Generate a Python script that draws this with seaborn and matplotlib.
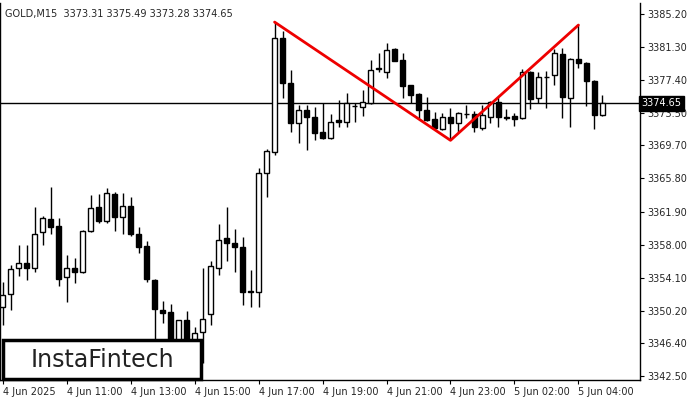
import matplotlib

matplotlib.use("Agg")
import matplotlib.pyplot as plt
import numpy as np
import pandas as pd
import seaborn as sns
from matplotlib.patches import Rectangle

# GOLD M15 candles
opens = [3350.6, 3352.2, 3355.2, 3355.8, 3355.3, 3359.5, 3361.0, 3360.2, 3354.2, 3355.2,
         3354.8, 3359.6, 3362.4, 3360.8, 3364.0, 3361.3, 3362.5, 3359.2, 3357.8, 3353.8,
         3350.3, 3350.0, 3345.6, 3349.1, 3346.5, 3347.7, 3349.8, 3355.3, 3358.8, 3358.2,
         3357.7, 3352.5, 3352.4, 3366.4, 3368.9, 3382.4, 3377.1, 3372.3, 3373.9, 3373.0,
         3371.3, 3370.6, 3372.7, 3372.5, 3374.35, 3374.2, 3374.7, 3378.7, 3378.35, 3381.1,
         3379.8, 3376.8, 3375.8, 3373.9, 3372.8, 3371.6, 3373.0, 3372.3, 3373.4, 3373.4,
         3371.75, 3373.0, 3374.8, 3373.0, 3373.2, 3372.9, 3378.4, 3375.3, 3377.8, 3378.0,
         3380.5, 3375.3, 3379.9, 3379.45, 3377.35, 3373.3]
highs = [3353.6, 3355.6, 3357.9, 3358.0, 3362.4, 3361.4, 3364.8, 3361.1, 3356.8, 3356.4,
         3359.7, 3363.8, 3364.0, 3364.7, 3364.2, 3364.1, 3363.6, 3360.1, 3358.4, 3354.0,
         3351.4, 3351.0, 3349.1, 3350.2, 3348.3, 3355.3, 3356.1, 3360.4, 3362.4, 3359.8,
         3358.9, 3355.0, 3367.0, 3369.3, 3384.25, 3383.2, 3378.6, 3374.5, 3374.5, 3374.2,
         3374.7, 3373.4, 3375.05, 3375.9, 3374.7, 3376.2, 3379.8, 3380.6, 3381.8, 3381.2,
         3380.6, 3376.8, 3375.9, 3375.4, 3373.6, 3373.5, 3374.1, 3373.6, 3374.5, 3373.75,
         3374.5, 3374.9, 3375.4, 3374.0, 3373.5, 3378.7, 3378.5, 3378.35, 3378.5, 3381.1,
         3381.2, 3380.0, 3383.9, 3379.5, 3377.4, 3375.6]
lows = [3348.5, 3350.3, 3354.3, 3353.8, 3354.8, 3357.9, 3359.3, 3353.1, 3351.2, 3353.5,
        3354.6, 3359.5, 3360.5, 3360.5, 3359.6, 3359.2, 3359.0, 3357.0, 3353.6, 3346.1,
        3348.7, 3344.4, 3343.8, 3343.4, 3345.0, 3344.0, 3348.5, 3354.4, 3356.1, 3354.8,
        3350.9, 3350.6, 3350.6, 3363.6, 3368.6, 3375.3, 3371.3, 3370.0, 3369.2, 3370.3,
        3370.4, 3370.4, 3371.9, 3371.9, 3372.5, 3373.2, 3374.6, 3378.35, 3377.6, 3379.6,
        3375.3, 3374.7, 3372.9, 3372.6, 3371.5, 3371.5, 3370.3, 3371.3, 3372.9, 3371.3,
        3371.5, 3372.3, 3371.9, 3372.7, 3372.0, 3372.8, 3374.0, 3374.7, 3374.1, 3376.8,
        3372.9, 3371.9, 3378.8, 3374.3, 3371.6, 3373.2]
closes = [3352.0, 3355.1, 3355.8, 3355.3, 3359.3, 3361.1, 3360.1, 3354.0, 3355.2, 3354.8,
          3359.6, 3362.3, 3360.8, 3364.1, 3361.3, 3362.5, 3359.2, 3357.7, 3353.9, 3350.4,
          3349.9, 3346.4, 3349.1, 3345.3, 3347.6, 3349.2, 3355.5, 3358.5, 3358.2, 3357.7,
          3352.4, 3352.4, 3366.4, 3369.0, 3382.4, 3377.1, 3372.3, 3373.9, 3373.0, 3371.2,
          3370.6, 3372.5, 3372.5, 3374.7, 3374.3, 3374.8, 3378.6, 3378.7, 3381.0, 3379.65,
          3376.7, 3375.6, 3373.9, 3372.7, 3371.75, 3373.0, 3372.3, 3373.5, 3373.35, 3371.9,
          3373.3, 3374.8, 3373.0, 3372.95, 3372.8, 3378.35, 3375.2, 3377.8, 3377.75, 3380.6,
          3375.4, 3379.95, 3379.4, 3377.3, 3373.3, 3374.65]

pattern_idx = [34, 56, 72]
pattern_price = [3384.25, 3370.3, 3383.9]

last_price = 3374.65
y_ticks = [3385.20, 3381.30, 3377.40, 3373.50, 3369.70, 3365.80, 3361.90,
           3358.00, 3354.10, 3350.20, 3346.40, 3342.50]
x_tick_idx = [0, 8, 16, 24, 32, 40, 48, 56, 64, 72]
x_tick_labels = ["4 Jun 2025", "4 Jun 11:00", "4 Jun 13:00", "4 Jun 15:00", "4 Jun 17:00",
                 "4 Jun 19:00", "4 Jun 21:00", "4 Jun 23:00", "5 Jun 02:00", "5 Jun 04:00"]

df = pd.DataFrame({"open": opens, "high": highs, "low": lows, "close": closes})
df["idx"] = np.arange(len(df))
df["bull"] = df["close"] >= df["open"]

sns.set_style("white")
plt.rcParams["font.family"] = ["DejaVu Sans"]

fig = plt.figure(figsize=(7, 4), dpi=100)
ax = fig.add_axes([0.0, 0.05, 640 / 700, 0.9925 - 0.05])

ax.vlines(df["idx"], df["low"], df["high"], color="black", lw=1, zorder=2)
body = (df["close"] - df["open"]).abs().clip(lower=0.08)
bottom = df[["open", "close"]].min(axis=1)
ax.bar(df["idx"], body, bottom=bottom, width=0.62,
       color=np.where(df["bull"], "white", "black"), edgecolor="black", lw=1, zorder=3)

sns.lineplot(x=pattern_idx, y=pattern_price, ax=ax, color="#ee0000", lw=2, zorder=4)
ax.axhline(last_price, color="black", lw=1, zorder=1)

ax.set_xlim(-0.34, 79.7)
ax.set_ylim(3342.03, 3386.5)
ax.yaxis.tick_right()
ax.set_yticks(y_ticks)
ax.set_yticklabels([f"{v:.2f}" for v in y_ticks])
ax.set_xticks(x_tick_idx)
ax.set_xticklabels(x_tick_labels, ha="left")
ax.tick_params(axis="both", labelsize=7, length=3, width=0.8, color="black", pad=2,
               bottom=True, right=True, left=False)
for side in ["left", "top", "right", "bottom"]:
    ax.spines[side].set_color("black")
    ax.spines[side].set_linewidth(1)
ax.spines["top"].set_visible(False)

ax.text(1.002, last_price, f"{last_price:.2f}", transform=ax.get_yaxis_transform(),
        fontsize=7, color="white", va="center", ha="left",
        bbox=dict(boxstyle="square,pad=0.25", fc="black", ec="black"))
ax.text(0.008, 0.985, "GOLD,M15  3373.31 3375.49 3373.28 3374.65", transform=ax.transAxes,
        fontsize=7, va="top", ha="left")

# logo box
fig.patches.append(Rectangle((3 / 700, 21 / 400), 198 / 700, 39 / 400, transform=fig.transFigure,
                             fc="white", ec="black", lw=2.5, zorder=10))
fig.text(102 / 700, 40 / 400, "InstaFintech", fontsize=17, color="#222222",
         ha="center", va="center", zorder=11)

sns.despine(ax=ax, top=True, right=False, left=False)
fig.savefig("out.png", dpi=100)
